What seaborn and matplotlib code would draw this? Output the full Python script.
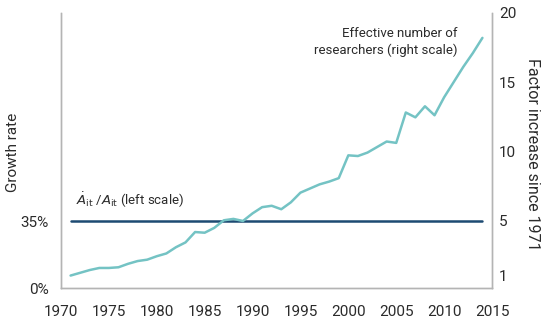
import matplotlib
matplotlib.use("Agg")
import matplotlib.pyplot as plt
import seaborn as sns
import pandas as pd

# ---- data ----
years = list(range(1971, 2015))
researchers = [1.0, 1.2, 1.4, 1.55, 1.55, 1.6, 1.85, 2.05, 2.15, 2.4,
               2.6, 3.05, 3.4, 4.15, 4.1, 4.45, 5.0, 5.1, 4.95, 5.5,
               5.95, 6.05, 5.8, 6.3, 7.0, 7.3, 7.6, 7.8, 8.05, 9.7,
               9.65, 9.9, 10.3, 10.7, 10.6, 12.8, 12.45, 13.25, 12.6, 13.9,
               15.0, 16.1, 17.1, 18.2]
growth_years = [1971, 2014]
growth_values = [35, 35]
x_ticks = [1970, 1975, 1980, 1985, 1990, 1995, 2000, 2005, 2010, 2015]
left_ticks = [0, 35]
left_ticklabels = ["0%", "35%"]
right_ticks = [1, 5, 10, 15, 20]

df_r = pd.DataFrame({"year": years, "value": researchers})
df_g = pd.DataFrame({"year": growth_years, "value": growth_values})

sns.set_style("white")
plt.rcParams["font.family"] = ["Roboto", "DejaVu Sans"]

TEAL = "#74c3c4"
NAVY = "#1d4a72"
SPINE = "#b4b4b4"
TXT = "#2b2b2b"

fig = plt.figure(figsize=(5.51, 3.33), dpi=100)
ax = fig.add_axes([61/551, 1-288/333, (492-61)/551, (288-13)/333])
ax2 = ax.twinx()

sns.lineplot(data=df_g, x="year", y="value", ax=ax, color=NAVY, lw=1.8)
sns.lineplot(data=df_r, x="year", y="value", ax=ax2, color=TEAL, lw=1.8)

ax.set_xlim(1970, 2015)
ax.set_ylim(0, 144)
ax2.set_ylim(0.1, 20)

ax.set_xticks(x_ticks)
ax.set_yticks(left_ticks)
ax.set_yticklabels(left_ticklabels)
ax2.set_yticks(right_ticks)

for a in (ax, ax2):
    for s in a.spines.values():
        s.set_color(SPINE)
        s.set_linewidth(1.0)
    a.spines["top"].set_visible(False)

ax.tick_params(axis="x", length=7, width=1, color=SPINE, labelsize=11, labelcolor=TXT, pad=5)
ax.tick_params(axis="y", length=0, labelsize=11, labelcolor=TXT, pad=9)
ax2.tick_params(axis="y", length=0, labelsize=11, labelcolor=TXT, pad=5)

ax.set_xlabel("")
ax.set_ylabel("Growth rate", fontsize=11, color=TXT)
ax.yaxis.label.set_va("center")
ax.yaxis.label.set_ha("center")
ax.yaxis.set_label_coords(-0.111, 0.495)

ax2.set_ylabel("Factor increase since 1971", fontsize=11.5, color=TXT,
               rotation=270)
ax2.yaxis.label.set_va("center")
ax2.yaxis.label.set_ha("center")
ax2.yaxis.set_label_coords(1.095, 0.487)

ax.text(1971.6, 46, r"$\dot{A}_{\mathrm{it}}$ /$A_{\mathrm{it}}$ (left scale)",
        fontsize=9.5, color=TXT, ha="left", va="center")
ax2.text(2011.4, 17.9, "Effective number of\nresearchers (right scale)",
         fontsize=9.5, color=TXT, ha="right", va="center", linespacing=1.3)

fig.savefig("out.png", dpi=100)
